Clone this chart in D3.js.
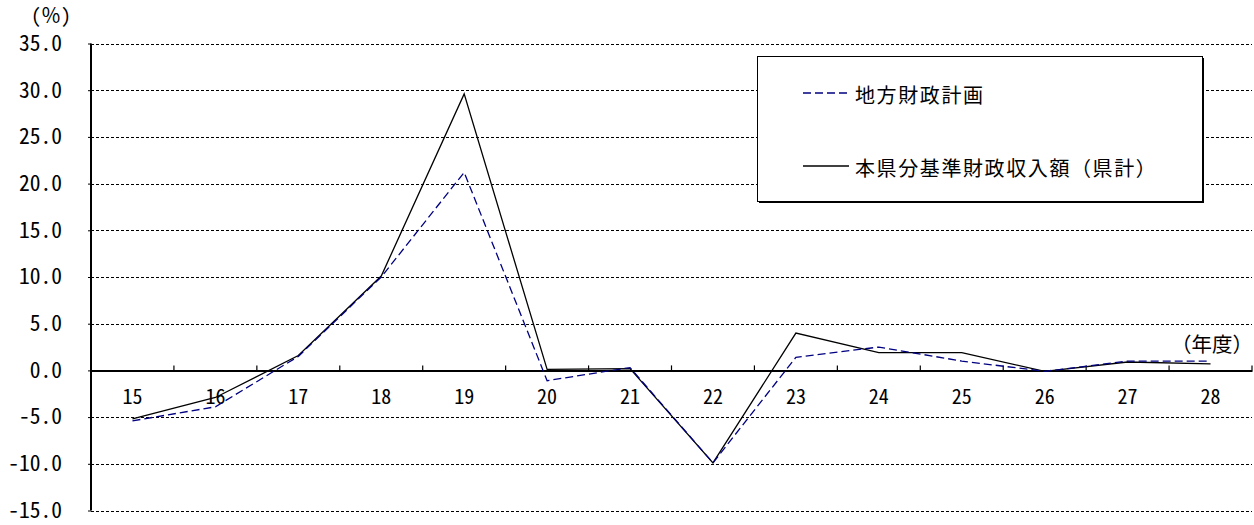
<!DOCTYPE html>
<html>
<head>
<meta charset="utf-8">
<script src="https://cdn.jsdelivr.net/npm/d3@7"></script>
<style>
  html, body { margin: 0; padding: 0; background: #fff; }
  svg { display: block; font-family: "Noto Sans Mono CJK JP", "Noto Sans CJK JP", sans-serif; }
</style>
</head>
<body>
<svg id="chart" width="1254" height="525"></svg>
<script>
// Fiscal years (Heisei), growth rate in %
const years = ["15","16","17","18","19","20","21","22","23","24","25","26","27","28"];
const planValues = [-5.4, -3.9, 1.5, 10.0, 21.2, -1.1, 0.3, -9.9, 1.4, 2.5, 1.0, -0.1, 1.0, 1.0];
const prefValues = [-5.2, -2.9, 1.6, 10.1, 29.6, 0.1, 0.2, -9.9, 4.0, 1.9, 1.9, -0.1, 0.9, 0.7];
const yTicks = [35, 30, 25, 20, 15, 10, 5, 0, -5, -10, -15];
const seriesNames = ["地方財政計画", "本県分基準財政収入額（県計）"];
const unitLabel = "(％)";
const xUnitLabel = "（年度）";

const svg = d3.select("#chart");
const plotLeft = 91, plotRight = 1252, plotTop = 43.5, plotBottom = 510.5;
const fontStack = '"Noto Sans Mono CJK JP", "Noto Sans CJK JP", sans-serif';

const x = d3.scaleBand().domain(years).range([plotLeft, plotRight]).padding(0);
const y = d3.scaleLinear().domain([-15, 35]).range([plotBottom, plotTop]);

const fmt = d3.formatLocale({decimal: ".", thousands: ",", grouping: [3], currency: ["", ""], minus: "-"}).format(".1f");

// Dashed horizontal gridlines
svg.append("g")
  .selectAll("line")
  .data(yTicks.filter(d => d !== 0))
  .join("line")
  .attr("x1", plotLeft).attr("x2", plotRight)
  .attr("y1", d => Math.round(y(d)) + 0.5).attr("y2", d => Math.round(y(d)) + 0.5)
  .attr("stroke", "#000").attr("stroke-width", 1)
  .attr("stroke-dasharray", "3,2");

// Left axis with labels
const yAxis = svg.append("g")
  .attr("transform", `translate(${plotLeft},0)`)
  .call(d3.axisLeft(y).tickValues(yTicks).tickFormat(fmt).tickSize(3).tickPadding(26));
yAxis.select(".domain").attr("stroke", "#000").attr("stroke-width", 2).attr("d", `M0,${plotTop}V${plotBottom}`);
yAxis.selectAll(".tick line").attr("stroke", "#000");
yAxis.selectAll("text").attr("font-size", 21.5).attr("fill", "#000").attr("font-family", fontStack);

// Zero axis with category labels
const xAxis = svg.append("g")
  .attr("transform", `translate(0,${y(0)})`)
  .call(d3.axisBottom(x).tickSize(0).tickPadding(19));
xAxis.select(".domain").attr("stroke", "#000").attr("stroke-width", 2);
xAxis.selectAll("text").attr("font-size", 20).attr("fill", "#000").attr("font-family", fontStack);

// Boundary ticks between categories, pointing up
const boundaries = years.map(d => x(d)).concat([plotRight]);
svg.append("g")
  .selectAll("line")
  .data(boundaries)
  .join("line")
  .attr("x1", d => d).attr("x2", d => d)
  .attr("y1", y(0)).attr("y2", y(0) - 5)
  .attr("stroke", "#000").attr("stroke-width", 1.2);

// Series lines
const line = d3.line()
  .x((d, i) => x(years[i]) + x.bandwidth() / 2)
  .y(d => y(d));

svg.append("path")
  .datum(prefValues)
  .attr("d", line)
  .attr("fill", "none")
  .attr("stroke", "#000")
  .attr("stroke-width", 1.3);

svg.append("path")
  .datum(planValues)
  .attr("d", line)
  .attr("fill", "none")
  .attr("stroke", "#000080")
  .attr("stroke-width", 1.3)
  .attr("stroke-dasharray", "8,4");

// Unit labels
svg.append("text")
  .attr("x", 51).attr("y", 14)
  .attr("text-anchor", "middle").attr("dominant-baseline", "central")
  .attr("font-size", 20).text(unitLabel);

svg.append("text")
  .attr("x", 1253).attr("y", 343)
  .attr("text-anchor", "end").attr("dominant-baseline", "central")
  .attr("font-size", 20.5).text(xUnitLabel);

// Legend box
const lg = svg.append("g");
lg.append("rect")
  .attr("x", 759).attr("y", 58).attr("width", 445).attr("height", 145)
  .attr("fill", "#000");
lg.append("rect")
  .attr("x", 757.5).attr("y", 56.5).attr("width", 445).attr("height", 145)
  .attr("fill", "#fff").attr("stroke", "#000").attr("stroke-width", 1);

const legendItems = [
  {name: seriesNames[0], color: "#000080", dash: "8,4", cy: 93},
  {name: seriesNames[1], color: "#000", dash: null, cy: 166}
];
legendItems.forEach(it => {
  lg.append("line")
    .attr("x1", 803).attr("x2", 849)
    .attr("y1", it.cy).attr("y2", it.cy)
    .attr("stroke", it.color).attr("stroke-width", 1.3)
    .attr("stroke-dasharray", it.dash);
  lg.append("text")
    .attr("x", 855).attr("y", it.cy + 1)
    .attr("dominant-baseline", "central")
    .attr("font-size", 20).attr("letter-spacing", 1.6)
    .text(it.name);
});
</script>
</body>
</html>
